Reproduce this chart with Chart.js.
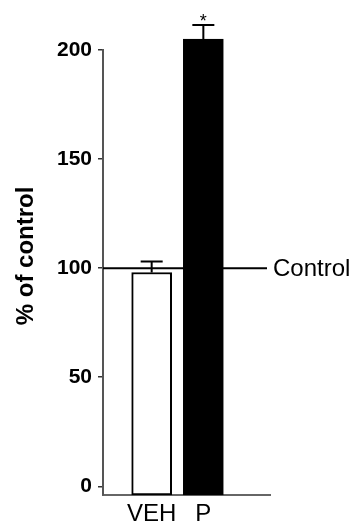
<!DOCTYPE html>
<html>
<head>
<meta charset="utf-8">
<script src="https://cdn.jsdelivr.net/npm/chart.js@4/dist/chart.umd.min.js"></script>
<style>
    html, body { margin: 0; padding: 0; background: #fff; }
    #wrap { width: 353px; height: 524px; }
</style>
</head>
<body>
<div id="wrap"><canvas id="chart" width="353" height="524"></canvas></div>
<script>
// data
const categories = ['VEH', 'P'];
const meanValues = [98, 205];
const errorValues = [5, 6.5];
const markers = ['', '*'];
const yTickValues = [0, 50, 100, 150, 200];
const controlValue = 100;
const controlLabel = 'Control';
const yTitle = '% of control';

const yMin = -4;
const yMax = 200;
const fontFamily = '"Liberation Sans", Arial, sans-serif';

// error bars (upper half only) + significance star
const errorBarPlugin = {
    id: 'errorBars',
    afterDatasetsDraw(chart) {
        const ctx = chart.ctx;
        const yScale = chart.scales.y;
        const xScale = chart.scales.x;
        ctx.save();
        ctx.strokeStyle = '#000';
        ctx.lineWidth = 2;
        categories.forEach((cat, i) => {
            const x = xScale.getPixelForValue(i + 1);
            const yTop = yScale.getPixelForValue(meanValues[i]);
            const yErr = yScale.getPixelForValue(meanValues[i] + errorValues[i]);
            ctx.beginPath();
            ctx.moveTo(x, yTop);
            ctx.lineTo(x, yErr);
            ctx.moveTo(x - 11, yErr);
            ctx.lineTo(x + 11, yErr);
            ctx.stroke();
            if (markers[i]) {
                ctx.fillStyle = '#000';
                ctx.font = '18px ' + fontFamily;
                ctx.textAlign = 'center';
                ctx.textBaseline = 'alphabetic';
                ctx.fillText(markers[i], x, yErr + 2);
            }
        });
        ctx.restore();
    }
};

// horizontal control reference line with its label
const controlLinePlugin = {
    id: 'controlLine',
    afterDatasetsDraw(chart) {
        const ctx = chart.ctx;
        const area = chart.chartArea;
        const y = chart.scales.y.getPixelForValue(controlValue);
        ctx.save();
        ctx.strokeStyle = '#000';
        ctx.lineWidth = 2;
        ctx.beginPath();
        ctx.moveTo(area.left, y);
        ctx.lineTo(area.right - 3, y);
        ctx.stroke();
        ctx.fillStyle = '#000';
        ctx.font = '24px ' + fontFamily;
        ctx.textAlign = 'left';
        ctx.textBaseline = 'middle';
        ctx.fillText(controlLabel, area.right + 3, y + 1);
        ctx.restore();
    }
};

// y title centred on the whole plot (bars + error bars), not just the axis line
const yTitlePlugin = {
    id: 'yTitle',
    afterDraw(chart) {
        const ctx = chart.ctx;
        const yScale = chart.scales.y;
        const topVal = Math.max(...meanValues.map((m, i) => m + errorValues[i]));
        const yMid = (yScale.getPixelForValue(yMin) + yScale.getPixelForValue(topVal) - 8) / 2;
        ctx.save();
        ctx.translate(26, yMid);
        ctx.rotate(-Math.PI / 2);
        ctx.fillStyle = '#000';
        ctx.font = 'bold 24px ' + fontFamily;
        ctx.textAlign = 'center';
        ctx.textBaseline = 'middle';
        ctx.fillText(yTitle, 0, 0);
        ctx.restore();
    }
};

const ctx = document.getElementById('chart').getContext('2d');

new Chart(ctx, {
    type: 'bar',
    data: {
        datasets: [{
            data: categories.map((c, i) => ({ x: i + 1, y: meanValues[i] })),
            backgroundColor: ['#ffffff', '#000000'],
            borderColor: '#000000',
            borderWidth: 2,
            borderSkipped: false,
            barThickness: 40,
            base: yMin,
            clip: false
        }]
    },
    options: {
        responsive: false,
        animation: false,
        layout: {
            padding: { top: 50, right: 83, bottom: 0, left: 0 }
        },
        plugins: {
            legend: { display: false },
            tooltip: { enabled: false }
        },
        scales: {
            x: {
                type: 'linear',
                offset: false,
                min: 0.058,
                max: 3.29,
                afterBuildTicks: (scale) => {
                    scale.ticks = categories.map((c, i) => ({ value: i + 1 }));
                },
                afterFit: (scale) => { scale.height = 29; },
                grid: { display: true, offset: false, drawOnChartArea: false, drawTicks: false, color: 'rgba(0,0,0,0)' },
                border: { display: true, color: '#666', width: 2 },
                ticks: {
                    autoSkip: false,
                    maxRotation: 0,
                    padding: 5,
                    color: '#000',
                    font: { family: fontFamily, size: 24 },
                    callback: (value) => categories[value - 1] || ''
                }
            },
            y: {
                min: yMin,
                max: yMax,
                afterBuildTicks: (scale) => {
                    scale.ticks = yTickValues.map(v => ({ value: v }));
                },
                afterFit: (scale) => { scale.width = 103; },
                grid: { display: true, drawOnChartArea: false, drawTicks: true, tickLength: 5, color: '#333', lineWidth: 1.5 },
                border: { display: true, color: '#555', width: 2 },
                ticks: {
                    padding: 6,
                    color: '#000',
                    font: { family: fontFamily, size: 21, weight: 'bold' }
                }
            }
        }
    },
    plugins: [errorBarPlugin, controlLinePlugin, yTitlePlugin]
});
</script>
</body>
</html>
